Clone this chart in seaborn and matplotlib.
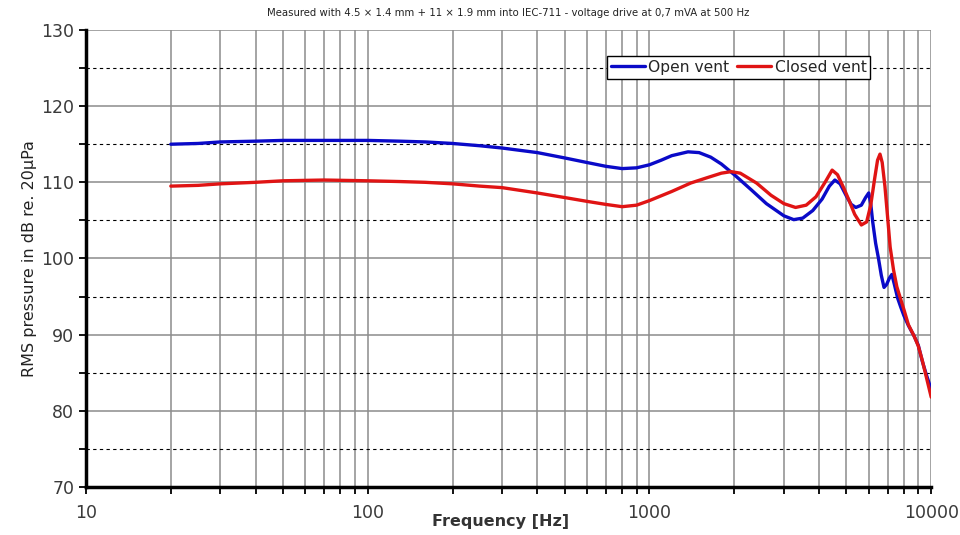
import numpy as np
import pandas as pd
import matplotlib
matplotlib.use('Agg')
import matplotlib.pyplot as plt
import matplotlib.ticker as mticker
import seaborn as sns

# values (frequency in Hz, level in dB)
open_freq = [20, 25, 30, 40, 50, 70, 100, 130, 160, 200, 250, 300, 400, 500, 600, 700, 800, 900,
             1000, 1100, 1200, 1370, 1500, 1650, 1800, 2000, 2300, 2600, 3000, 3250, 3500, 3800,
             4100, 4350, 4550, 4750, 5000, 5200, 5400, 5650, 5850, 6000, 6100, 6200, 6350, 6500,
             6650, 6800, 6950, 7100, 7250, 7400, 7600, 7800, 8000, 8300, 8700, 9000, 9300, 9600, 10000]
open_db = [115.0, 115.1, 115.3, 115.4, 115.5, 115.5, 115.5, 115.4, 115.3, 115.1, 114.8, 114.5,
           113.9, 113.2, 112.6, 112.1, 111.8, 111.9, 112.3, 112.9, 113.5, 114.0, 113.9, 113.3,
           112.4, 111.0, 109.0, 107.2, 105.6, 105.1, 105.3, 106.3, 107.8, 109.5, 110.3, 109.8,
           108.2, 107.1, 106.7, 107.0, 108.0, 108.6, 107.2, 104.8, 102.0, 100.0, 97.8, 96.2,
           96.6, 97.4, 97.9, 96.6, 94.8, 93.6, 92.5, 91.2, 89.8, 88.6, 86.5, 84.8, 82.8]

closed_freq = [20, 25, 30, 40, 50, 70, 100, 130, 160, 200, 250, 300, 400, 500, 600, 700, 800, 900,
               1000, 1200, 1400, 1600, 1800, 1950, 2100, 2400, 2700, 3000, 3300, 3600, 3900, 4200,
               4450, 4650, 4900, 5100, 5350, 5650, 5900, 6100, 6300, 6450, 6580, 6700, 6850, 7000,
               7150, 7350, 7550, 7800, 8000, 8300, 8700, 9000, 9300, 9600, 10000]
closed_db = [109.5, 109.6, 109.8, 110.0, 110.2, 110.3, 110.2, 110.1, 110.0, 109.8, 109.5, 109.3,
             108.6, 108.0, 107.5, 107.1, 106.8, 107.0, 107.6, 108.8, 109.9, 110.6, 111.2, 111.4,
             111.2, 109.9, 108.3, 107.2, 106.7, 107.0, 108.1, 110.0, 111.6, 111.0, 109.2, 107.7,
             105.8, 104.4, 104.8, 107.0, 110.5, 112.9, 113.7, 112.6, 109.5, 105.5, 101.5, 98.5,
             96.3, 94.6, 93.3, 91.3, 89.8, 88.5, 86.6, 84.5, 81.8]

df = pd.concat([
    pd.DataFrame({'freq': open_freq, 'db': open_db, 'series': 'Open vent'}),
    pd.DataFrame({'freq': closed_freq, 'db': closed_db, 'series': 'Closed vent'}),
])

sns.set_style('white')
plt.rcParams['font.family'] = ['DejaVu Sans']

fig = plt.figure(figsize=(9.6, 5.35), dpi=100)
ax = fig.add_axes([0.0896, 0.0897, 0.8804, 0.8543])

sns.lineplot(data=df, x='freq', y='db', hue='series',
             palette={'Open vent': '#0a0ac8', 'Closed vent': '#e01414'},
             linewidth=2.4, ax=ax, legend=True)

ax.set_xscale('log')
ax.set_xlim(10, 10000)
ax.set_ylim(70, 130)

ax.xaxis.set_major_locator(mticker.LogLocator(base=10, numticks=10))
ax.xaxis.set_minor_locator(mticker.LogLocator(base=10, subs=np.arange(2, 10), numticks=10))
ax.xaxis.set_major_formatter(mticker.FuncFormatter(lambda v, p: f'{int(round(v))}'))
ax.xaxis.set_minor_formatter(mticker.NullFormatter())
ax.yaxis.set_major_locator(mticker.MultipleLocator(10))
ax.yaxis.set_minor_locator(mticker.MultipleLocator(5))

# grid: vertical solid grey, horizontal solid at 10s and dashed at 5s
ax.grid(which='major', axis='both', color='#8c8c8c', linewidth=1.1, linestyle='-')
ax.grid(which='minor', axis='x', color='#8c8c8c', linewidth=1.1, linestyle='-')
ax.grid(which='minor', axis='y', color='black', linewidth=0.8, linestyle=(0, (3, 3)))
ax.set_axisbelow(True)

for s in ['top', 'right']:
    ax.spines[s].set_visible(False)
for s in ['left', 'bottom']:
    ax.spines[s].set_linewidth(2.5)
    ax.spines[s].set_color('black')

ax.tick_params(axis='both', which='both', direction='out', length=5, width=1.3,
               color='black', labelsize=12.5, labelcolor='#3a3a3a', bottom=True, left=True)
ax.tick_params(axis='x', which='major', pad=7)

ax.set_xlabel('Frequency [Hz]', fontsize=11.5, color='#333333', fontweight='bold')
ax.xaxis.set_label_coords(0.49, -0.058)
ax.set_ylabel('RMS pressure in dB re. 20µPa', fontsize=11.5, color='#222222', labelpad=3)
ax.set_title('Measured with 4.5 × 1.4 mm + 11 × 1.9 mm into IEC-711 - voltage drive at 0,7 mVA at 500 Hz',
             fontsize=7.3, color='#222222', pad=10)

handles, labels = ax.get_legend_handles_labels()
leg = ax.legend(handles, labels, ncol=2, loc='upper right', bbox_to_anchor=(0.928, 0.943),
                frameon=True, fancybox=False, edgecolor='black', framealpha=1,
                fontsize=11.2, handlelength=2.2, handletextpad=0.2, columnspacing=0.5,
                borderpad=0.25, borderaxespad=0)
leg.get_frame().set_linewidth(1.0)

fig.savefig('out.png', dpi=100)
